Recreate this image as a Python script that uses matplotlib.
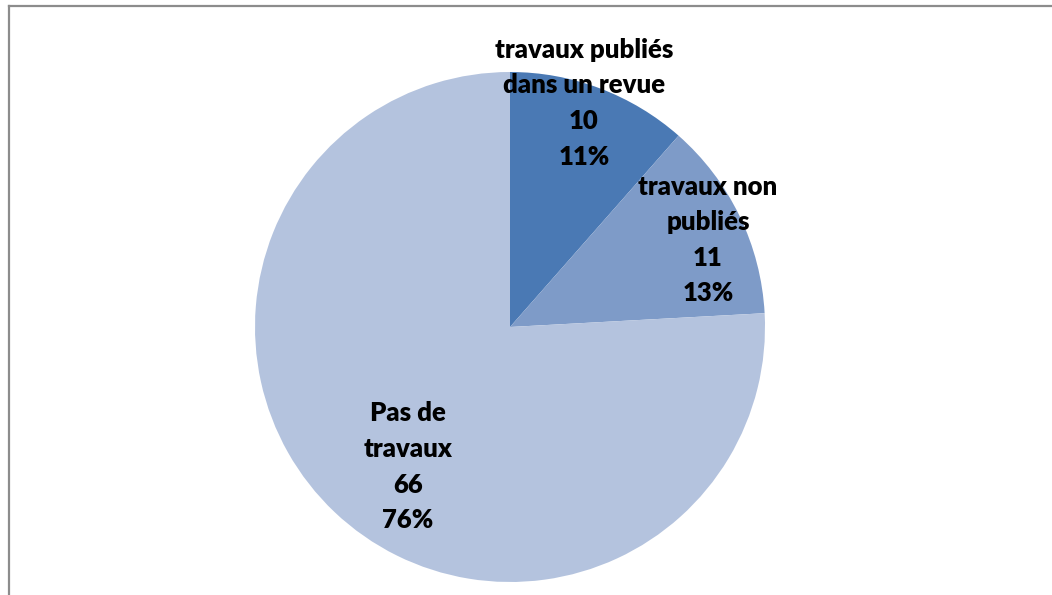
import matplotlib.pyplot as plt
from matplotlib.lines import Line2D

# données
categories = ["travaux publiés\ndans un revue", "travaux non\npubliés", "Pas de\ntravaux"]
effectifs = [10, 11, 66]
couleurs = ["#4a79b4", "#7e9bc8", "#b4c3de"]

# position du texte de chaque part (x, y dans le repère du camembert, rayon = 1)
pos_labels = [(0.290, 0.878), (0.776, 0.341), (-0.40, -0.548)]

plt.rcParams['font.family'] = ['Lato', 'DejaVu Sans']

fig = plt.figure(figsize=(10.52, 5.95), dpi=100)
ax = fig.add_axes([0, 0, 1, 1])

wedges, _ = ax.pie(effectifs, colors=couleurs, startangle=90, counterclock=False,
                   radius=1, wedgeprops=dict(linewidth=0))

# pie() impose ses propres limites : on les remet après
cx, cy, r = 510, 327, 255
ax.set_xlim(-cx / r, (1052 - cx) / r)
ax.set_ylim(-(595 - cy) / r, cy / r)
ax.set_aspect('equal')
ax.axis('off')

total = sum(effectifs)
for cat, n, (x, y) in zip(categories, effectifs, pos_labels):
    pct = round(100 * n / total)
    ax.text(x, y, f"{cat}\n{n}\n{pct}%", ha='center', va='center',
            fontsize=18.5, fontweight='heavy', linespacing=1.58, color='black')

# cadre (bords gauche et haut visibles)
x0 = 9.5 / 1052
y0 = 1 - 6 / 595
fig.add_artist(Line2D([x0, x0], [0, y0], transform=fig.transFigure, color='#8c8c8c', lw=1.6))
fig.add_artist(Line2D([x0, 1], [y0, y0], transform=fig.transFigure, color='#8c8c8c', lw=1.6))

fig.savefig("out.png", dpi=100)
